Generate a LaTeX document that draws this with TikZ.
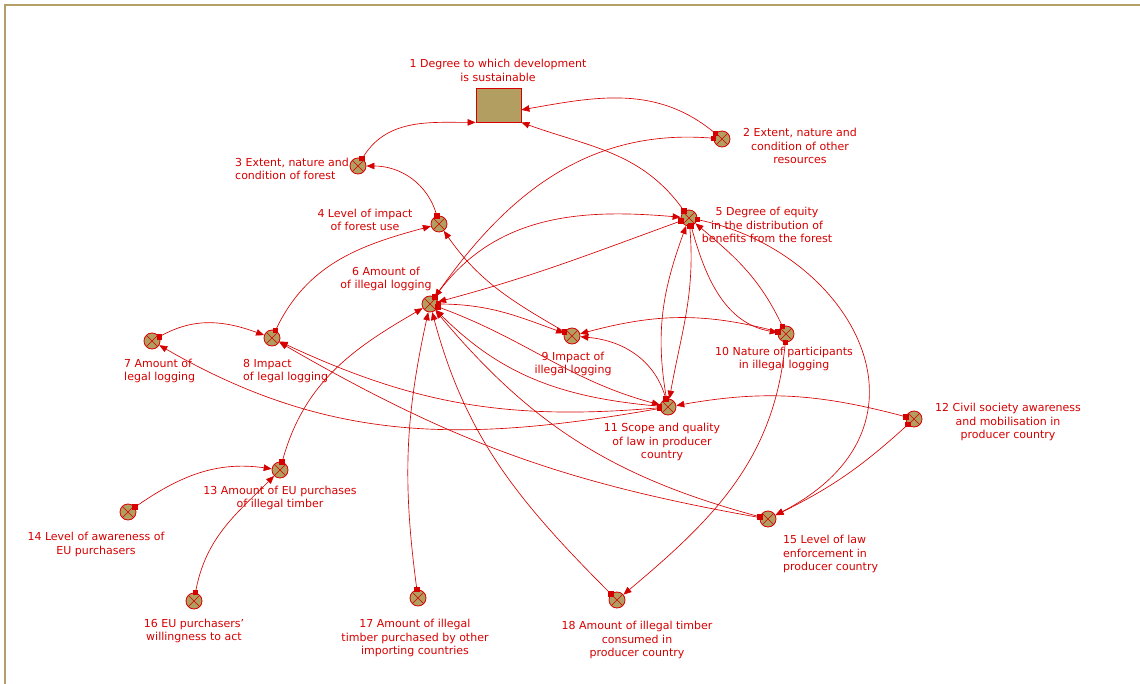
\documentclass[tikz,border=0pt]{standalone}
\usepackage{fontspec}
\setmainfont{DejaVu Sans}
\usetikzlibrary{arrows.meta,decorations.markings}
\definecolor{lred}{RGB}{214,0,0}
\definecolor{tanfill}{RGB}{178,158,96}
\definecolor{framec}{RGB}{180,160,102}
\begin{document}
\begin{tikzpicture}[x=1pt,y=-1pt,
  var/.style={circle, draw=lred, line width=0.8pt, fill=tanfill, minimum size=16pt, inner sep=0pt,
    path picture={\draw[lred,line width=0.6pt] (path picture bounding box.north west)--(path picture bounding box.south east)
      (path picture bounding box.north east)--(path picture bounding box.south west);}},
  stock/.style={rectangle, draw=lred, line width=0.8pt, fill=tanfill, minimum width=45pt, minimum height=34pt, inner sep=0pt},
  lab/.style={text=lred, font=\fontsize{11}{13.7}\selectfont, inner sep=0pt, align=center},
  labl/.style={lab, align=left, anchor=west},
  sqtail/.style={rectangle, fill=lred, inner sep=0pt, minimum size=5.5pt},
  link/.style={draw=lred, line width=0.65pt, -{Triangle[length=8pt,width=6.5pt]},
    postaction={decorate},
    decoration={markings, mark=at position 0.01pt with {\node[sqtail] {};}}}
]
\useasboundingbox (0,0) rectangle (1140,684);
\draw[framec, line width=2.2pt] (1140,5) -- (5,5) -- (5,684);

% nodes
\node[stock] (n1) at (498.5,105) {};
\node[var] (n2) at (722,139) {};
\node[var] (n3) at (358,166) {};
\node[var] (n4) at (439,224) {};
\node[var] (n5) at (689,218) {};
\node[var] (n6) at (430,304) {};
\node[var] (n7) at (152,341) {};
\node[var] (n8) at (272,338) {};
\node[var] (n9) at (572,336) {};
\node[var] (n10) at (786,334) {};
\node[var] (n11) at (668,407) {};
\node[var] (n12) at (914,419) {};
\node[var] (n13) at (280,470) {};
\node[var] (n14) at (128,512) {};
\node[var] (n15) at (768,519) {};
\node[var] (n16) at (194,601) {};
\node[var] (n17) at (418,598) {};
\node[var] (n18) at (617,600) {};

% labels
\node[lab] (l1) at (498,70.5) {1 Degree to which development\\is sustainable};
\node[lab] (l2) at (800,146) {2 Extent, nature and\\condition of other\\resources};
\node[labl] (l3) at (235,169) {3 Extent, nature and\\condition of forest};
\node[lab] (l4) at (365,220) {4 Level of impact\\of forest use};
\node[lab] (l5) at (767,225) {5 Degree of equity\\in the distribution of\\benefits from the forest};
\node[lab] (l6) at (386,279) {6 Amount of\\of illegal logging};
\node[labl] (l7) at (124,371) {7 Amount of\\legal logging};
\node[labl] (l8) at (243,371) {8 Impact\\of legal logging};
\node[lab] (l9) at (573,364) {9 Impact of\\illegal logging};
\node[lab] (l10) at (784,359) {10 Nature of participants\\in illegal logging};
\node[lab] (l11) at (662,442) {11 Scope and quality\\of law in producer\\country};
\node[lab] (l12) at (1008,422) {12 Civil society awareness\\and mobilisation in\\producer country};
\node[lab] (l13) at (280,498) {13 Amount of EU purchases\\of illegal timber};
\node[lab] (l14) at (96,544.5) {14 Level of awareness of\\EU purchasers};
\node[labl] (l15) at (783,554) {15 Level of law\\enforcement in\\producer country};
\node[lab] (l16) at (194,631) {16 EU purchasers'\\willingness to act};
\node[lab] (l17) at (415,638) {17 Amount of illegal\\timber purchased by other\\importing countries};
\node[lab] (l18) at (637,640) {18 Amount of illegal timber\\consumed in\\producer country};

% links
\draw[link] (n3) to[out=60,in=180] (n1.south west);
\draw[link] (n2) to[out=140,in=10] (n1.-12);
\draw[link] (n5) to[out=125,in=-20] (n1.south east);
\draw[link] (n4) to[out=105,in=0] (n3);
\draw[link] (n8) to[out=65,in=195] (n4);
\draw[link] (n9) to[out=150,in=-55] (n4);
\draw[link] (n2) to[out=175,in=55] (n6);
\draw[link] (n6) to[out=55,in=175] (n5);
\draw[link] (n5) to[out=200,in=15] (n6);
\draw[link] (n6) to[out=0,in=160] (n9);
\draw[link] (n7) to[out=30,in=160] (n8);
\draw[link] (n11) to[out=190,in=-30] (n7);
\draw[link] (n11) to[out=185,in=-25] (n8);
\draw[link] (n15) to[out=170,in=-30] (n8);
\draw[link] (n15) to[out=165,in=-50] (n6);
\draw[link] (n13) to[out=75,in=210] (n6);
\draw[link] (n14) to[out=35,in=172] (n13);
\draw[link] (n16) to[out=80,in=225] (n13);
\draw[link] (n17) to[bend left=10] (n6);
\draw[link] (n18) to[out=135,in=-75] (n6);
\draw[link] (n11) to[out=175,in=-45] (n6);
\draw[link] (n6) to[out=-20,in=165] (n11);
\draw[link] (n12) to[out=165,in=10] (n11);
\draw[link] (n12) to[bend left=8] (n15);
\draw[link] (n5) .. controls (850,250) and (950,425) .. (n15);
\draw[link] (n5) to[out=-75,in=170] (n10);
\draw[link] (n10) to[out=115,in=-40] (n5);
\draw[link] (n10) to[out=165,in=15] (n9);
\draw[link] (n11) to[out=105,in=-5] (n9);
\draw[link] (n11) to[out=100,in=-110] (n5);
\draw[link] (n5) to[out=-85,in=80] (n11);
\draw[link] (n10) to[out=-95,in=40] (n18);
\end{tikzpicture}
\end{document}
